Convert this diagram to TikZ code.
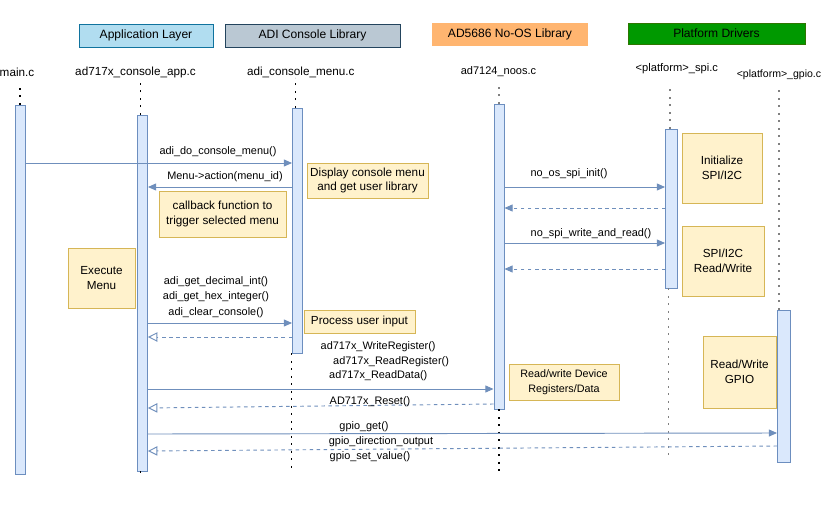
\documentclass[tikz,border=0pt]{standalone}
\usepackage{fontspec}
\setmainfont{Liberation Sans}
\usetikzlibrary{arrows.meta, positioning, fit}

\definecolor{barfill}{HTML}{DAE8FC}
\definecolor{barline}{HTML}{6C8EBF}
\definecolor{notefill}{HTML}{FFF2CC}
\definecolor{noteline}{HTML}{D6B656}
\definecolor{msgline}{HTML}{6F8FBC}
\definecolor{appfill}{HTML}{B1DDF0}
\definecolor{appline}{HTML}{10739E}
\definecolor{adifill}{HTML}{BAC8D3}
\definecolor{adiline}{HTML}{23445D}
\definecolor{noosfill}{HTML}{FFB570}
\definecolor{platfill}{HTML}{009900}
\definecolor{platline}{HTML}{2D7600}

\begin{document}
\begin{tikzpicture}[x=0.03cm, y=-0.03cm,
    bar/.style={draw=barline, fill=barfill, inner sep=0pt, line width=0.8pt},
    note/.style={draw=noteline, fill=notefill, align=center, inner sep=0pt,
      font=\fontsize{10}{12.5}\selectfont},
    layer/.style={minimum height=0.69cm, inner sep=0pt, font=\fontsize{10.3}{12}\selectfont},
    title/.style={inner sep=0pt, font=\fontsize{10}{12}\selectfont},
    lbl/.style={inner sep=0pt, font=\fontsize{9.3}{11}\selectfont},
    life/.style={dash pattern=on 1.4pt off 5pt, line width=1.4pt},
    msg/.style={draw=msgline, line width=0.8pt, -{Triangle[length=7pt, width=6pt]}},
    back/.style={msg, dashed},
    reply/.style={draw=msgline, line width=0.8pt, dashed, -{Triangle[open, length=8pt, width=8pt]}}]
  \useasboundingbox (0,0) rectangle (837,527);

  % layers
  \node (applayer) [layer, fill=appfill, draw=appline, minimum width=4.02cm] at (146,35.5) {Application Layer};
  \node (adilayer) [layer, fill=adifill, draw=adiline, minimum width=5.25cm] at (312.5,35.5) {ADI Console Library};
  \node (nooslayer) [layer, fill=noosfill, minimum width=4.68cm] at (510,34.5) {AD5686 No-OS Library};
  \node (platlayer) [layer, fill=platfill, draw=platline, minimum width=5.31cm, minimum height=0.63cm] at (716.5,33.5) {Platform Drivers};

  % file names
  \node (mainname) [title] at (17,72) {main.c};
  \node (appname) [title] at (135.5,72) {ad717x\_console\_app.c};
  \node (menuname) [title] at (300.8,72) {adi\_console\_menu.c};
  \node (noosname) [title, font=\fontsize{9.4}{11}\selectfont] at (498.5,72) {ad7124\_noos.c};
  \node (spiname) [title, font=\fontsize{9.5}{11}\selectfont] at (676.8,69) {<platform>\_spi.c};
  \node (gpioname) [title, font=\fontsize{9}{11}\selectfont] at (779,75) {<platform>\_gpio.c};

  % activation bars
  \node (main) [bar, fit={(15,105) (25,474)}] {};
  \node (app) [bar, fit={(137.5,115) (147.5,471)}] {};
  \node (menu) [bar, fit={(292.5,108) (302.5,353)}] {};
  \node (noos) [bar, fit={(494,104) (504,409)}] {};
  \node (spi) [bar, fit={(665.5,129) (677.5,288)}] {};
  \node (gpio) [bar, fit={(777.5,310) (790.5,462)}] {};

  % lifelines
  \draw [life] (main.north) -- ++(0,-21);
  \draw [life] (app.north) ++(-2,0) -- ++(0,-36);
  \draw [life] (app.south) ++(-2,0) -- ++(0,6);
  \draw [life] (menu.north) ++(-2,0) -- ++(0,-30);
  \draw [life] (menu.south) ++(-6,0) -- ++(0,117);
  \draw [life, gray] (noos.north) -- ++(0,-19);
  \draw [life] (noos.south) -- ++(0,64);
  \draw [life, gray] (spi.north) ++(-1.5,0) -- ++(0,-44);
  \draw [life, gray] (spi.south) ++(-3,0) -- ++(0,170);
  \draw [life, gray] (gpio.north) ++(-5,0) -- ++(0,-220);

  % notes
  \node (display) [note, minimum width=3.63cm, minimum height=1.05cm] at (367.5,180.5) {Display console menu\\and get user library};
  \node (callback) [note, minimum width=3.81cm, minimum height=1.38cm] at (222.5,214) {callback function to\\trigger selected menu};
  \node (execute) [note, minimum width=2.01cm, minimum height=1.8cm] at (101.5,278) {Execute\\Menu};
  \node (process) [note, minimum width=3.33cm, minimum height=0.69cm] at (359.5,321.5) {Process user input};
  \node (spiinit) [note, minimum width=2.4cm, minimum height=2.1cm] at (722,168) {Initialize\\SPI/I2C};
  \node (spirw) [note, minimum width=2.46cm, minimum height=2.1cm] at (723,261) {SPI/I2C\\Read/Write};
  \node (devrw) [note, minimum width=3.3cm, minimum height=1.08cm, font=\fontsize{9.2}{13}\selectfont] at (564,382) {Read/write Device\\Registers/Data};
  \node (gpiorw) [note, minimum width=2.19cm, minimum height=2.16cm] at (739.5,372) {Read/Write\\GPIO};

  % messages
  \draw [msg] (main.east |- 0,163) -- (menu.west |- 0,163);
  \node (domenu) [lbl] at (218,152) {adi\_do\_console\_menu()};
  \draw [msg] (menu.west |- 0,187) -- (app.east |- 0,187);
  \node (action) [lbl] at (225,177) {Menu->action(menu\_id)};
  \draw [msg] (app.east |- 0,323) -- (menu.west |- 0,323);
  \node (getinput) [lbl, align=center, font=\fontsize{9.3}{13.2}\selectfont] at (216,297) {adi\_get\_decimal\_int()\\adi\_get\_hex\_integer()\\adi\_clear\_console()};
  \draw [reply] (menu.west |- 0,337) -- (app.east |- 0,337);

  \draw [msg] (app.east |- 0,389) -- (noos.west |- 0,389);
  \node (wreg) [lbl, anchor=west] at (320.5,347) {ad717x\_WriteRegister()};
  \node (rreg) [lbl, anchor=west] at (333,362) {ad717x\_ReadRegister()};
  \node (rdata) [lbl, anchor=west] at (329,376) {ad717x\_ReadData()};
  \draw [reply] (noos.west |- 0,404) -- (app.east |- 0,408);
  \node (reset) [lbl] at (370,402) {AD717x\_Reset()};

  \draw [msg] (noos.east |- 0,187) -- (spi.west |- 0,187);
  \node (spiinitcall) [lbl] at (569,174) {no\_os\_spi\_init()};
  \draw [back] (spi.west |- 0,208) -- (noos.east |- 0,208);
  \draw [msg] (noos.east |- 0,243) -- (spi.west |- 0,243);
  \node (spirwcall) [lbl] at (591,234) {no\_spi\_write\_and\_read()};
  \draw [back] (spi.west |- 0,269) -- (noos.east |- 0,269);

  \draw [msg] (app.east |- 0,434) -- (gpio.west |- 0,433);
  \node (gpioget) [lbl] at (364,427) {gpio\_get()};
  \draw [reply] (gpio.west |- 0,446) -- (app.east |- 0,451);
  \node (gpiodir) [lbl] at (381,442) {gpio\_direction\_output};
  \node (gpioset) [lbl] at (370,457) {gpio\_set\_value()};
\end{tikzpicture}
\end{document}
